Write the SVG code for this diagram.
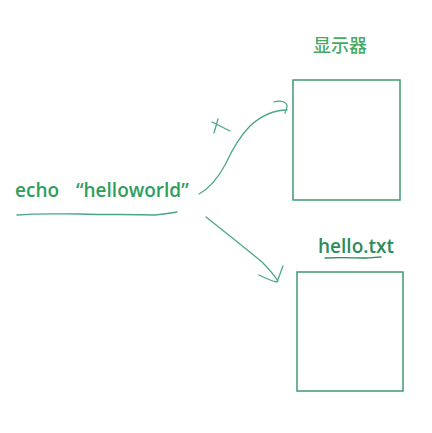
<svg xmlns="http://www.w3.org/2000/svg" width="432" height="433" viewBox="0 0 432 433">
<style>
.box{fill:none;stroke:#3f9a72;stroke-width:1.5}
.ink{fill:none;stroke:#4aa784;stroke-width:1.3;stroke-linecap:round;stroke-linejoin:round}
.lbl{font-family:"Open Sans","Noto Sans CJK SC",sans-serif;font-weight:600;fill:#2e9e5e}
.cjk{font-family:"Noto Sans CJK SC",sans-serif;font-weight:500;fill:#45aa62}
</style>
<rect width="432" height="433" fill="#ffffff"/>
<g id="echo">
<text class="lbl" x="15" y="197" font-size="19">echo <tspan x="76">“helloworld”</tspan></text>
<path class="ink" d="M17,215 C40,213 60,214 80,214 C110,215 130,214 155,215 C165,214 172,213 177,212"/>
</g>
<g id="display">
<text class="cjk" x="340" y="52" font-size="18" text-anchor="middle">显示器</text>
<rect class="box" x="293" y="80" width="107" height="120"/>
</g>
<g id="hellotxt">
<text class="lbl" x="356" y="253" font-size="19" text-anchor="middle" style="fill:#2f8a5c">hello.txt</text>
<path class="ink" d="M325,258 C340,257 355,258 366,258 C372,258 377,257 381,257" style="stroke:#2f8a5c"/>
<rect class="box" x="297" y="272" width="106" height="119"/>
</g>
<g id="connectors">
<path class="ink" d="M199,194 C210,188 218,178 225,165 C232,150 240,136 250,126 C262,115 275,110 287,110"/>
<path class="ink" d="M274,102 C281,100 287,102 287,106 C287,109 286,111 285,113"/>
<path class="ink" d="M212,122 L230,131 M218,119 L214,133"/>
<path class="ink" d="M206,217 C225,232 245,248 262,262 C268,268 274,275 278,281"/>
<path class="ink" d="M259,275 C265,278 271,281 277,282 C279,277 281,271 283,266"/>
</g>
</svg>
